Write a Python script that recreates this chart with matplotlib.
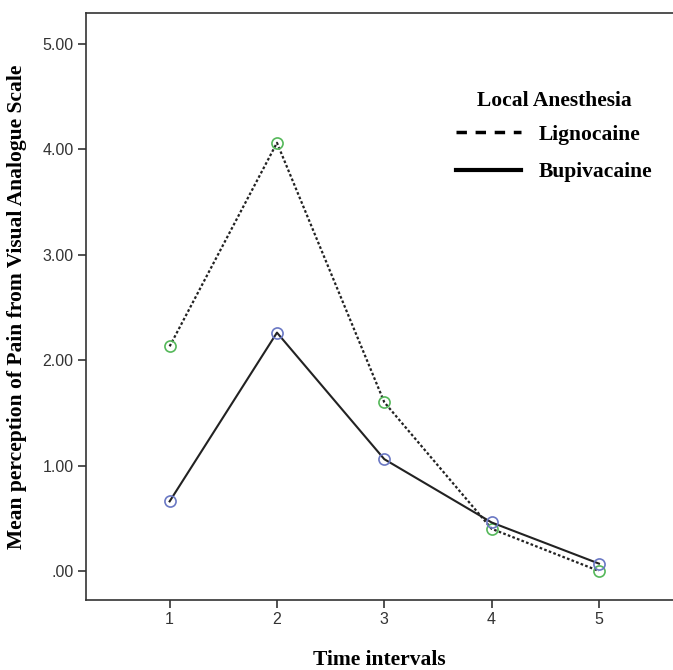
import matplotlib.pyplot as plt
from matplotlib.lines import Line2D

# mean VAS pain scores per time interval
intervals = [1, 2, 3, 4, 5]
lignocaine = [2.13, 4.06, 1.60, 0.40, 0.00]
bupivacaine = [0.66, 2.26, 1.06, 0.46, 0.07]
ytick_vals = [0, 1, 2, 3, 4, 5]
ytick_labels = [".00", "1.00", "2.00", "3.00", "4.00", "5.00"]

serif = "Liberation Serif"
sans = "Liberation Sans"
fs = 15.5

fig = plt.figure(figsize=(6.73, 6.70), dpi=100)
ax = fig.add_axes([0.128, 0.1045, 0.872, 0.876])

# lines
ax.plot(intervals, lignocaine, color="#222222", lw=1.6, ls=(0, (1.2, 1.0)),
        marker="o", ms=8, mfc="none", mec="#55b85a", mew=1.2, zorder=3)
ax.plot(intervals, bupivacaine, color="#222222", lw=1.5, ls="-",
        marker="o", ms=8, mfc="none", mec="#6a78c4", mew=1.2, zorder=3)

ax.set_xlim(0.222, 5.69)
ax.set_ylim(-0.275, 5.29)
ax.set_xticks(intervals)
ax.set_xticklabels([str(i) for i in intervals], fontfamily=sans, fontsize=11.5, color="#333333")
ax.set_yticks(ytick_vals)
ax.set_yticklabels(ytick_labels, fontfamily=sans, fontsize=11.5, color="#333333")
ax.tick_params(direction="out", length=6, width=1.2, color="#333333", pad=3)

for side in ["left", "bottom", "top"]:
    ax.spines[side].set_linewidth(1.2)
    ax.spines[side].set_color("#333333")
ax.spines["right"].set_visible(False)

ax.set_xlabel("Time intervals", fontfamily=serif, fontweight="bold", fontsize=fs, labelpad=16)
ax.set_ylabel("Mean perception of Pain from Visual Analogue Scale", fontfamily=serif,
              fontweight="bold", fontsize=fs, labelpad=11)

# legend
handles = [Line2D([], [], color="black", lw=2.5, ls=(0, (3, 2.5))),
           Line2D([], [], color="black", lw=3, ls="-")]
leg = ax.legend(handles, ["Lignocaine", "Bupivacaine"], loc="upper left",
                bbox_to_anchor=(456 / 673, 1 - 91 / 670), bbox_transform=fig.transFigure,
                frameon=False, title="Local Anesthesia", handlelength=3.0,
                handletextpad=0.84, labelspacing=0.8, borderpad=0, borderaxespad=0,
                prop={"family": serif, "weight": "bold", "size": fs},
                title_fontproperties={"family": serif, "weight": "bold", "size": fs})
leg._legend_box.sep = 10

fig.savefig("out.png", dpi=100)
